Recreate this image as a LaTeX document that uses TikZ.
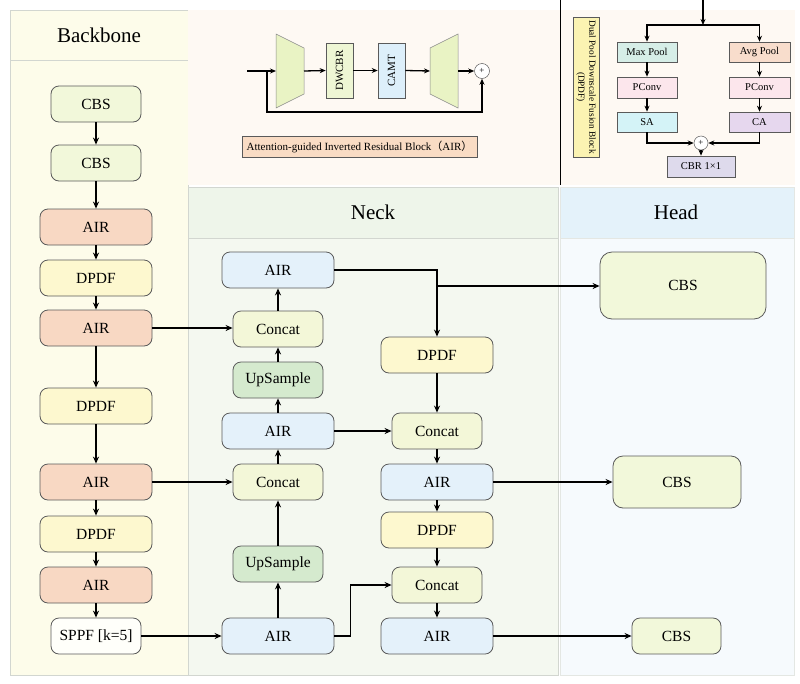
\documentclass[tikz,border=0pt]{standalone}
\usepackage{fontspec}
\setmainfont{Liberation Serif}
\newfontfamily\cjkfont{Noto Sans CJK SC}
\usetikzlibrary{arrows.meta,calc}
\definecolor{bbbg}{HTML}{FDFCEA}
\definecolor{topbg}{HTML}{FEF9F3}
\definecolor{neckbg}{HTML}{F4F8F0}
\definecolor{neckhd}{HTML}{EEF5EA}
\definecolor{headbg}{HTML}{F6FAFD}
\definecolor{headhd}{HTML}{E4F2FA}
\definecolor{panelline}{HTML}{D2D6D0}
\definecolor{cbsfill}{HTML}{F2F8DA}
\definecolor{airbb}{HTML}{F8D8C3}
\definecolor{dpdffill}{HTML}{FDF8CF}
\definecolor{airneck}{HTML}{E4F1FA}
\definecolor{upfill}{HTML}{D5EACE}
\definecolor{concatfill}{HTML}{F3F7D8}
\definecolor{sppffill}{HTML}{FFFFFA}
\definecolor{boxline}{HTML}{5A5A5A}
\definecolor{trapfill}{HTML}{E9F3C4}
\definecolor{dwfill}{HTML}{EEF6D4}
\definecolor{camtfill}{HTML}{DDEFFA}
\definecolor{airlab}{HTML}{F9DCC4}
\definecolor{dpdflab}{HTML}{FBF3B2}
\definecolor{maxfill}{HTML}{D6EEE7}
\definecolor{avgfill}{HTML}{F8DDCC}
\definecolor{pcfill}{HTML}{FCE6EC}
\definecolor{safill}{HTML}{D4F3F7}
\definecolor{cafill}{HTML}{E6D7EE}
\definecolor{cbrfill}{HTML}{DEDAEC}
\begin{document}
\begin{tikzpicture}[x=1pt,y=-1pt,
  blk/.style={draw=boxline,line width=0.8pt,rounded corners=8pt,align=center,
    font=\fontsize{15.5}{18}\selectfont,inner sep=0pt},
  cbs/.style={blk,fill=cbsfill,minimum width=90pt,minimum height=36pt},
  airb/.style={blk,fill=airbb,minimum width=112pt,minimum height=36pt},
  dpdfb/.style={blk,fill=dpdffill,minimum width=112pt,minimum height=36pt},
  airn/.style={blk,fill=airneck,minimum width=112pt,minimum height=36pt},
  concatb/.style={blk,fill=concatfill,minimum width=90pt,minimum height=36pt},
  upb/.style={blk,fill=upfill,minimum width=90pt,minimum height=36pt},
  arr/.style={-{Stealth[length=7pt,width=6pt]},line width=1.4pt},
  sarr/.style={-{Stealth[length=6pt,width=5pt]},line width=1.3pt},
  sbox/.style={draw=boxline,line width=0.6pt,inner sep=0pt,font=\fontsize{10.5}{12}\selectfont},
  hdr/.style={font=\fontsize{21}{24}\selectfont}
]
\useasboundingbox (0,0) rectangle (800,683);
% ---------- panels ----------
\fill[white] (0,0) rectangle (800,683);
\draw[panelline,fill=bbbg,line width=0.6pt] (10,10) rectangle (188,675);
\draw[panelline,line width=0.6pt] (10,60) -- (188,60);
\fill[topbg] (188,10) rectangle (560,185);
\fill[topbg] (560,10) rectangle (795,185);
\draw[black,line width=0.8pt] (560,0) -- (560,185);
\draw[panelline,fill=neckbg,line width=0.6pt] (188,187) rectangle (558,675);
\draw[panelline,fill=neckhd,line width=0.6pt] (188,187) rectangle (558,238);
\draw[panelline!60,fill=headbg,line width=0.6pt] (560,187) rectangle (794,675);
\draw[panelline!60,fill=headhd,line width=0.6pt] (560,187) rectangle (794,238);
\node[hdr] (hbb) at (99,35) {Backbone};
\node[hdr] (hneck) at (373,212) {Neck};
\node[hdr] (hhead) at (676,212) {Head};
% ---------- backbone ----------
\node[cbs] (bb1) at (96,104) {CBS};
\node[cbs] (bb2) at (96,163) {CBS};
\node[airb] (bb3) at (96,227) {AIR};
\node[dpdfb] (bb4) at (96,278) {DPDF};
\node[airb] (bb5) at (96,328) {AIR};
\node[dpdfb] (bb6) at (96,406) {DPDF};
\node[airb] (bb7) at (96,482) {AIR};
\node[dpdfb] (bb8) at (96,534) {DPDF};
\node[airb] (bb9) at (96,585) {AIR};
\node[blk,fill=sppffill,minimum width=90pt,minimum height=36pt] (bb10) at (96,636) {SPPF [k=5]};
\foreach \a/\b in {bb1/bb2,bb2/bb3,bb3/bb4,bb4/bb5,bb5/bb6,bb6/bb7,bb7/bb8,bb8/bb9,bb9/bb10}
  \draw[arr] (\a.south) -- (\b.north);
% ---------- neck ----------
\node[airn] (n1) at (278,270) {AIR};
\node[concatb] (n2) at (278,329) {Concat};
\node[upb] (n3) at (278,380) {UpSample};
\node[airn] (n4) at (278,431) {AIR};
\node[concatb] (n5) at (278,482) {Concat};
\node[upb] (n6) at (278,564) {UpSample};
\node[airn] (n7) at (278,636) {AIR};
\node[dpdfb] (r1) at (437,355) {DPDF};
\node[concatb] (r2) at (437,431) {Concat};
\node[airn] (r3) at (437,482) {AIR};
\node[dpdfb] (r4) at (437,530) {DPDF};
\node[concatb] (r5) at (437,585) {Concat};
\node[airn] (r6) at (437,636) {AIR};
% ---------- head ----------
\node[cbs,fill=cbsfill,minimum width=166pt,minimum height=67pt,rounded corners=12pt] (h1) at (683,285.5) {CBS};
\node[cbs,minimum width=128pt,minimum height=52pt,rounded corners=10pt] (h2) at (677,482) {CBS};
\node[cbs,minimum width=89pt,minimum height=36pt] (h3) at (676.5,636) {CBS};
% ---------- connectors ----------
\draw[arr] (bb5.east) -- (bb5.east -| n2.west);
\draw[arr] (bb7.east) -- (n5.west);
\draw[arr] (bb10.east) -- (n7.west);
\foreach \a/\b in {n7/n6,n6/n5,n5/n4,n4/n3,n3/n2,n2/n1}
  \draw[arr] (\a.north) -- (\b.south);
\draw[arr] (n1.east) -| (r1.north);
\coordinate (br) at (437,286);
\draw[arr] (br) -- (br -| h1.west);
\foreach \a/\b in {r1/r2,r2/r3,r3/r4,r4/r5,r5/r6}
  \draw[arr] (\a.south) -- (\b.north);
\draw[arr] (n4.east) -- (r2.west);
\draw[arr] (r3.east) -- (h2.west);
\draw[arr] (n7.east) -- ++(16,0) |- (r5.west);
\draw[arr] (r6.east) -- (h3.west);
% ---------- AIR block diagram ----------
\draw[boxline!70,line width=0.5pt,fill=trapfill] (276,34) -- (304,48) -- (304,94) -- (276,108) -- cycle;
\draw[boxline!70,line width=0.5pt,fill=trapfill] (430,48) -- (458,34) -- (458,108) -- (430,94) -- cycle;
\coordinate (ain) at (247,71);
\coordinate (t1in) at (276,71);
\coordinate (t1out) at (304,71);
\coordinate (t2in) at (430,71);
\coordinate (t2out) at (458,71);
\coordinate (skip) at (267,71);
\node[sbox,fill=dwfill,minimum width=27pt,minimum height=55pt] (dw) at (339.5,70.5) {};
\node[rotate=90,font=\fontsize{11}{12}\selectfont] (dwt) at (dw.center) {DWCBR};
\node[sbox,fill=camtfill,minimum width=27pt,minimum height=55pt] (camt) at (391.5,70.5) {};
\node[rotate=90,font=\fontsize{11}{12}\selectfont] (camtt) at (camt.center) {CAMT};
\node[circle,draw=boxline,line width=0.5pt,fill=white,minimum size=15pt,inner sep=0pt,font=\fontsize{9}{10}\selectfont] (plus1) at (482,71) {+};
\draw[sarr] (ain) -- (t1in);
\draw[sarr] (t1out) -- (dw.west);
\draw[sarr] (dw.east) -- (camt.west);
\draw[sarr] (camt.east) -- (t2in);
\draw[sarr] (t2out) -- (plus1.west);
\draw[sarr] (skip) -- (267,112) -| (plus1.south);
\node[sbox,fill=airlab,minimum width=235pt,minimum height=21pt,font=\fontsize{11}{12}\selectfont] (airlabel) at (359.5,146.5) {Attention-guided Inverted Residual Block{\cjkfont （}AIR{\cjkfont ）}};
% ---------- DPDF block diagram ----------
\node[sbox,fill=dpdflab,minimum width=26pt,minimum height=140pt] (dlab) at (586,87) {};
\node[rotate=-90,align=center,font=\fontsize{9.3}{11}\selectfont] (dlabt) at (dlab.center) {Dual Pool Downscale Fusion Block\\(DPDF)};
\node[sbox,fill=maxfill,minimum width=60pt,minimum height=20pt] (mp) at (647,52) {Max Pool};
\node[sbox,fill=avgfill,minimum width=61pt,minimum height=20pt] (ap) at (759.5,52) {Avg Pool};
\node[sbox,fill=pcfill,minimum width=60pt,minimum height=21pt] (pc1) at (647,87.5) {PConv};
\node[sbox,fill=pcfill,minimum width=61pt,minimum height=21pt] (pc2) at (759.5,87.5) {PConv};
\node[sbox,fill=safill,minimum width=60pt,minimum height=20pt] (sa) at (647,122) {SA};
\node[sbox,fill=cafill,minimum width=61pt,minimum height=20pt] (ca) at (759.5,122) {CA};
\node[circle,draw=boxline,line width=0.5pt,fill=white,minimum size=14pt,inner sep=0pt,font=\fontsize{9}{10}\selectfont] (plus2) at (701,143) {+};
\node[sbox,fill=cbrfill,minimum width=68pt,minimum height=21pt] (cbr) at (701,166.5) {CBR 1×1};
\coordinate (dtop) at (703,0);
\coordinate (dj) at (703,25);
\draw[sarr] (dtop) -- (dj);
\draw[sarr] (dj) -| (mp.north);
\draw[sarr] (dj) -| (ap.north);
\draw[sarr] (mp.south) -- (pc1.north);
\draw[sarr] (ap.south) -- (pc2.north);
\draw[sarr] (pc1.south) -- (sa.north);
\draw[sarr] (pc2.south) -- (ca.north);
\draw[sarr] (sa.south) |- (plus2.west);
\draw[sarr] (ca.south) |- (plus2.east);
\draw[sarr] (plus2.south) -- (cbr.north);
\end{tikzpicture}
\end{document}
